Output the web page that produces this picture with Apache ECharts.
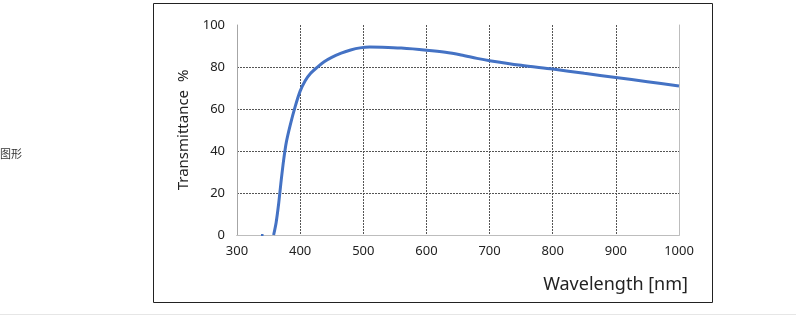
<!DOCTYPE html>
<html><head><meta charset="utf-8">
<script src="https://cdn.jsdelivr.net/npm/echarts@6/dist/echarts.min.js"></script>
<style>html,body{margin:0;padding:0;background:#fff}#c{width:796px;height:322px}</style>
</head><body><div id="c"></div>
<script>
const wavelengths = [358,362,366,370,374,378,384,392,400,408,416,426,438,450,465,480,495,510,530,560,600,630,655,680,700,750,800,850,900,950,1000];
const transmittance = [0,6,15,26,36,44,52,61,68.5,73.5,76.8,79.6,82.5,84.6,86.6,88.1,89.1,89.5,89.4,89,88,87,85.7,84.1,83,80.8,79,77,75,73,71];
const blipX = [338,342];
const blipY = [0,0];
const xTicks = {min:300,max:1000,interval:100};
const yTicks = {min:0,max:100,interval:20};

const chart = echarts.init(document.getElementById('c'));
const font = '"Noto Sans","Open Sans",sans-serif';
const grid = '#555';
chart.setOption({
  animation:false,
  title:{text:'Wavelength [nm]',right:108,top:276,padding:0,textStyle:{fontFamily:font,fontSize:18,fontWeight:'normal',color:'#222'}},
  grid:{left:237,right:117,top:25,bottom:87},
  graphic:[
    {type:'rect',shape:{x:153.5,y:3.5,width:559,height:299},style:{fill:'none',stroke:'#222',lineWidth:1},silent:true},
    {type:'line',shape:{x1:0,y1:314.5,x2:796,y2:314.5},style:{stroke:'#e6e6e6',lineWidth:1}},
    {type:'text',left:0,top:148,style:{text:'图形',fontSize:11,fill:'#333',fontFamily:'"Noto Sans CJK SC",sans-serif'}}
  ],
  xAxis:[{type:'value',min:xTicks.min,max:xTicks.max,interval:xTicks.interval,
    axisLine:{show:true,lineStyle:{color:'#a6a6a6'}},axisTick:{show:false},
    axisLabel:{margin:10,fontFamily:font,fontSize:13,color:'#222',formatter:v=>String(v)},
    splitLine:{show:true,lineStyle:{type:[2,1],width:1,color:['transparent',grid,grid,grid,grid,grid,grid,'transparent']}}},
    {type:'value',position:'top',min:xTicks.min,max:xTicks.max,axisLine:{show:true,lineStyle:{color:'#bdbdbd'}},axisTick:{show:false},axisLabel:{show:false},splitLine:{show:false}}],
  yAxis:[{type:'value',min:yTicks.min,max:yTicks.max,interval:yTicks.interval,
    name:'Transmittance  %',nameLocation:'middle',nameGap:46,nameTextStyle:{fontFamily:font,fontSize:15,color:'#222'},
    axisLine:{show:true,lineStyle:{color:'#a6a6a6'}},axisTick:{show:false},
    axisLabel:{margin:12,fontFamily:font,fontSize:13,color:'#222'},
    splitLine:{show:true,lineStyle:{type:[2,1],width:1,color:['transparent',grid,grid,grid,grid,'transparent']}}},
    {type:'value',position:'right',min:yTicks.min,max:yTicks.max,axisLine:{show:true,lineStyle:{color:'#bdbdbd'}},axisTick:{show:false},axisLabel:{show:false},splitLine:{show:false}}],
  series:[
    {type:'line',data:wavelengths.map((w,i)=>[w,transmittance[i]]),smooth:0.3,showSymbol:false,lineStyle:{color:'#4472C4',width:3}},
    {type:'line',data:blipX.map((w,i)=>[w,blipY[i]]),showSymbol:false,lineStyle:{color:'#4472C4',width:2}}
  ]
});
</script></body></html>
